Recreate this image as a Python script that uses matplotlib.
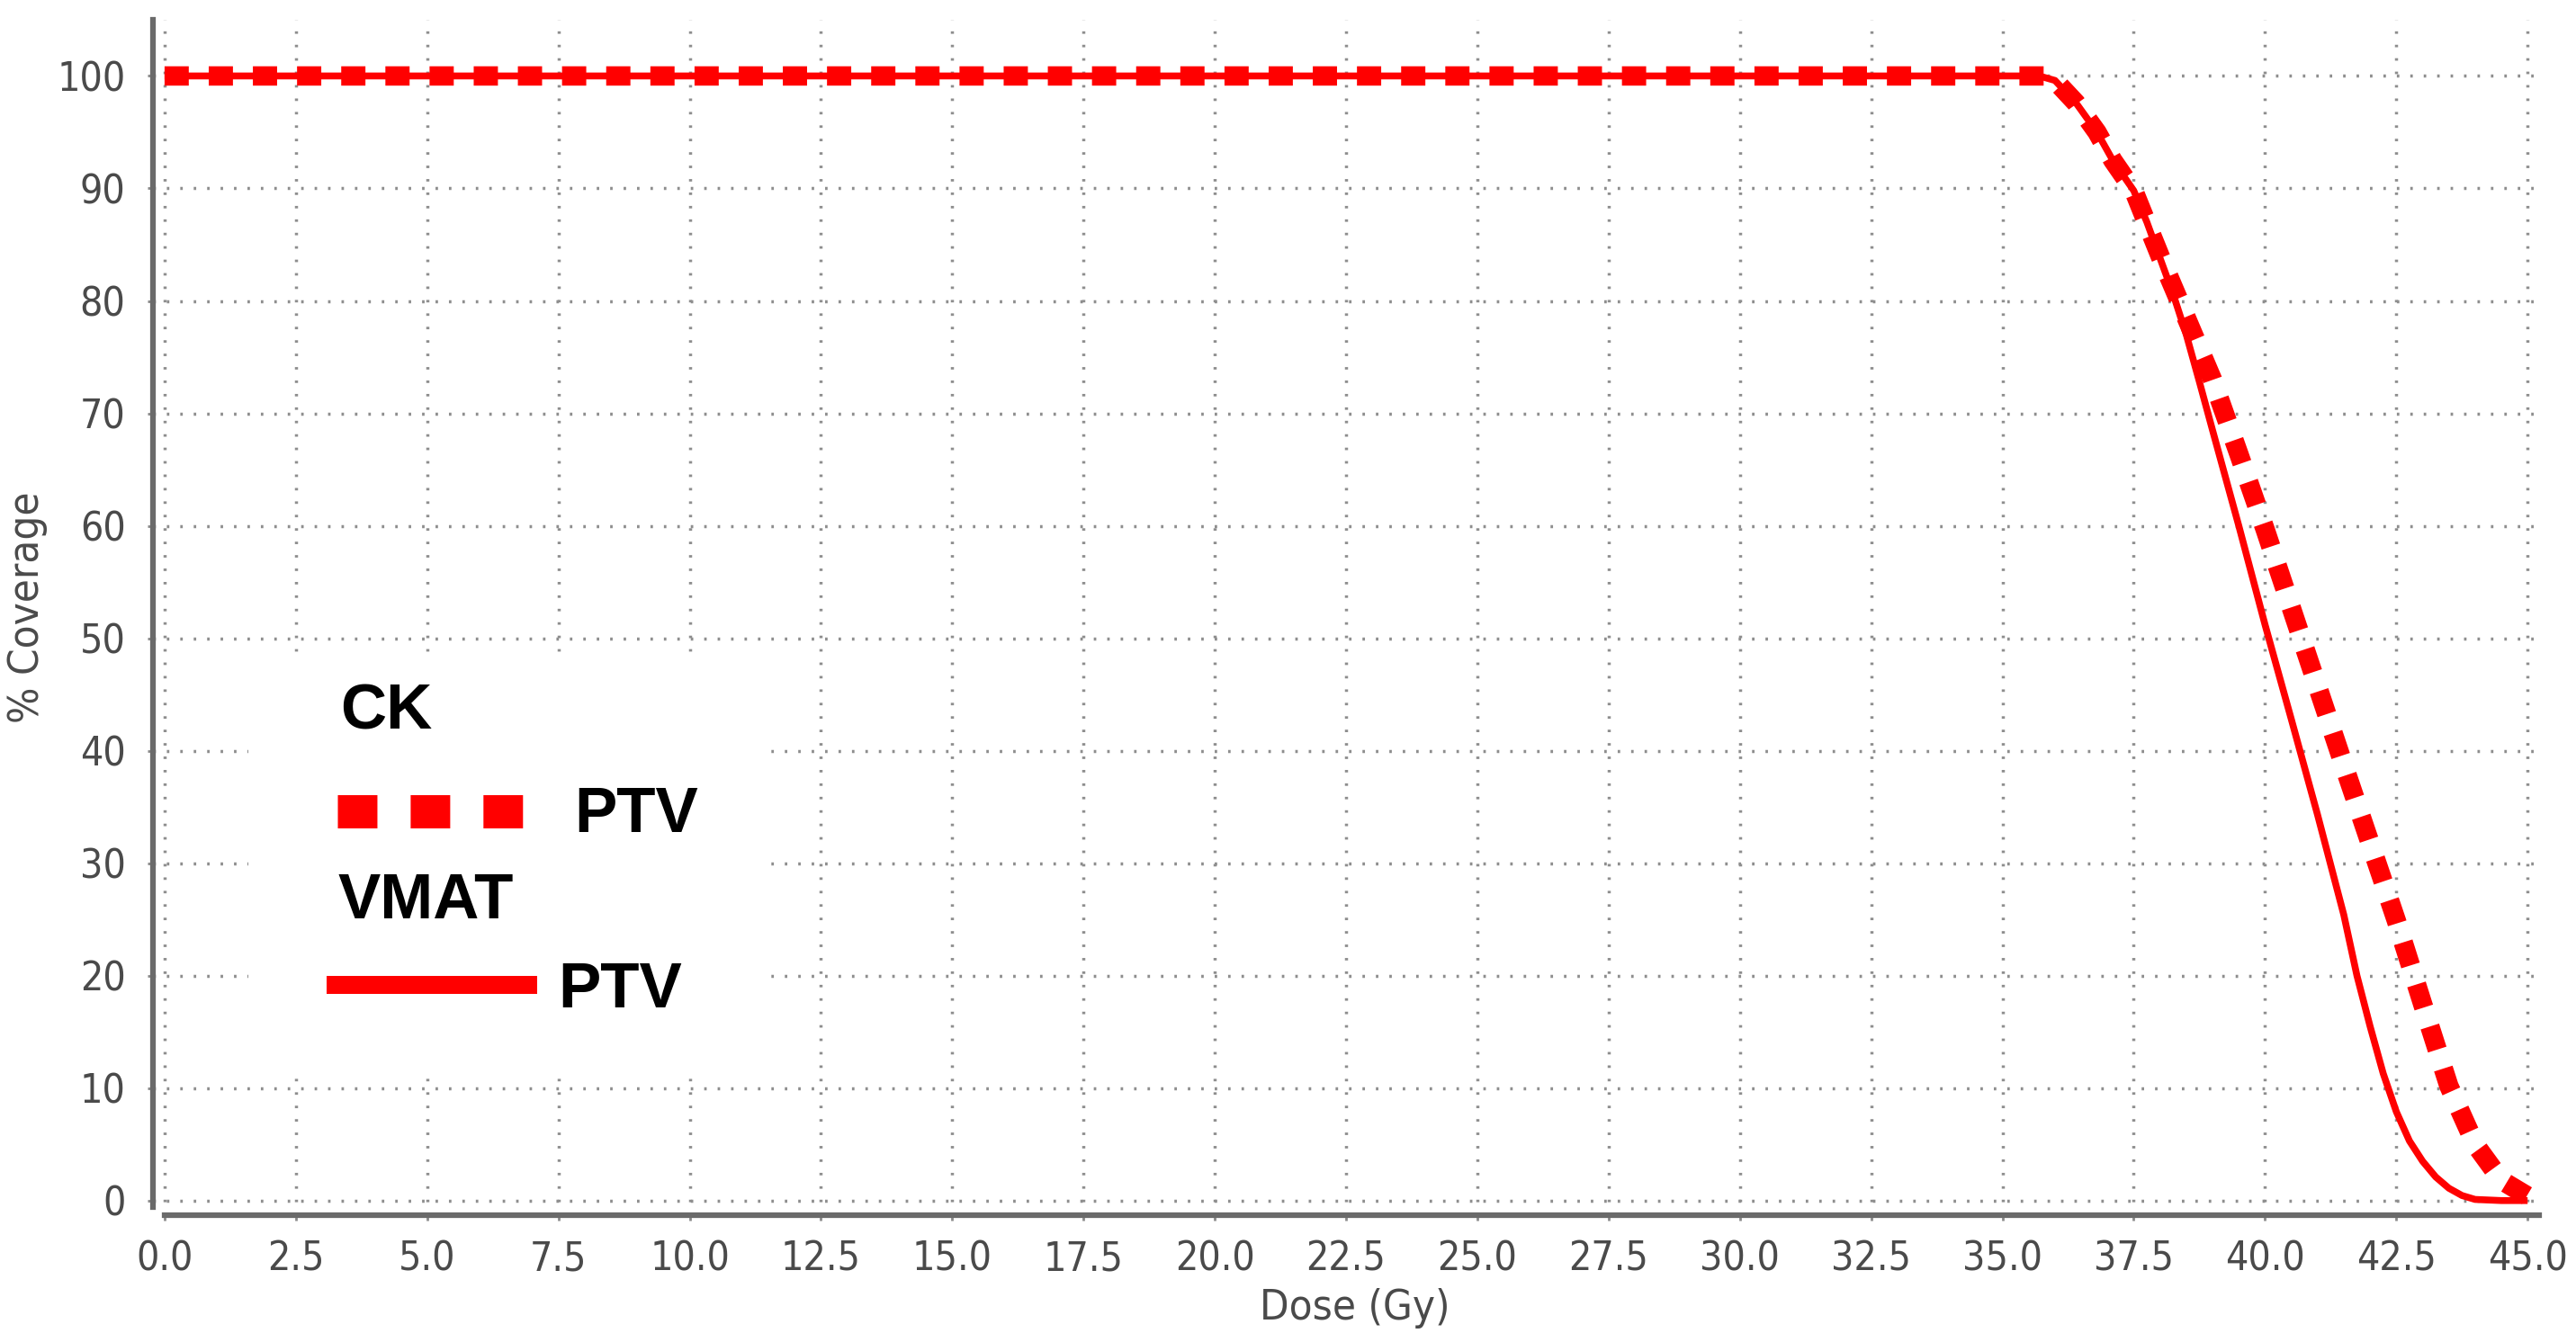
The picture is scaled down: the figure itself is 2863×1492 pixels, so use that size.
import matplotlib
matplotlib.use("Agg")
import matplotlib.pyplot as plt
from matplotlib.patches import Rectangle

# dose-volume data
dose_vmat = [0.0, 35.7, 36.0, 36.4, 36.8, 37.1, 37.5, 37.75, 38.0, 38.25, 38.5,
             38.75, 39.0, 39.5, 40.0, 40.5, 41.0, 41.5, 41.75, 42.0, 42.25,
             42.5, 42.75, 43.0, 43.25, 43.5, 43.75, 44.0, 44.5, 45.0]
cov_vmat = [100, 100, 99.6, 97.6, 95.0, 92.5, 89.8, 87.0, 83.8, 80.6, 77.0,
            72.8, 68.5, 60.0, 51.2, 42.8, 34.3, 25.4, 20.0, 15.5, 11.3,
            7.9, 5.3, 3.5, 2.1, 1.1, 0.45, 0.1, 0.0, 0.0]

dose_ck = [0.0, 35.8, 36.0, 36.4, 36.8, 37.1, 37.5, 38.0, 38.5, 39.0, 39.5,
           40.0, 40.5, 41.0, 41.5, 42.0, 42.5, 43.0, 43.5, 44.0, 44.5, 45.0]
cov_ck = [100, 100, 99.6, 97.6, 95.0, 92.5, 89.8, 84.0, 78.5, 73.0, 66.4,
          59.7, 52.7, 45.7, 38.7, 31.8, 24.9, 17.5, 10.2, 5.0, 1.8, 0.4]

x_ticks = [i * 2.5 for i in range(19)]
y_ticks = list(range(0, 101, 10))

red = '#ff0000'
grey_txt = '#4a4a4a'

fig = plt.figure(figsize=(28.63, 14.92), dpi=100)
ax = fig.add_axes([0.0594, 0.0945, 0.9263, 0.8908])

ax.set_xlim(-0.22, 45.22)
ax.set_ylim(-1.3, 105)

ax.set_axisbelow(True)
ax.grid(True, color='#8e8e8e', linestyle=(0, (0.8, 3.5)), linewidth=2.5)

# white block behind the hand-made legend
ax.add_patch(Rectangle((1.6, 11.6), 9.9, 36.8, facecolor='white',
                       edgecolor='none', zorder=1))

ax.plot(dose_vmat, cov_vmat, color=red, linewidth=5.5, zorder=3,
        solid_capstyle='butt', solid_joinstyle='round')
ax.plot(dose_ck, cov_ck, color=red, linewidth=15.5, zorder=4,
        linestyle=(0, (1.25, 1.03)), dash_capstyle='butt')

# legend drawn by hand, like the original
bold = dict(family='Liberation Sans', fontweight='bold', fontsize=51,
            color='black', va='center', ha='left', zorder=5)
ax.text(3.35, 43.4, 'CK', **bold)
ax.plot([3.29, 6.87], [34.6, 34.6], color=red, linewidth=26.6,
        linestyle=(0, (1.19, 1.0)), dash_capstyle='butt', zorder=5)
ax.text(7.8, 34.2, 'PTV', **bold)
ax.text(3.3, 26.5, 'VMAT', **bold)
ax.plot([3.08, 7.09], [19.2, 19.2], color=red, linewidth=14.4,
        solid_capstyle='butt', zorder=5)
ax.text(7.5, 18.6, 'PTV', **bold)

ax.set_xticks(x_ticks)
ax.set_xticklabels([f'{v:.1f}' for v in x_ticks])
ax.set_yticks(y_ticks)
ax.set_yticklabels([str(v) for v in y_ticks])
for lab in ax.get_xticklabels() + ax.get_yticklabels():
    lab.set_family('DejaVu Sans')
    lab.set_stretch('condensed')
    lab.set_fontsize(32)
    lab.set_color(grey_txt)
ax.tick_params(axis='both', length=4, width=2, color='#8a8a8a')
ax.tick_params(axis='y', pad=18)
ax.tick_params(axis='x', pad=16)

for side in ('top', 'right'):
    ax.spines[side].set_visible(False)
for side in ('left', 'bottom'):
    ax.spines[side].set_color('#6a6a6a')
    ax.spines[side].set_linewidth(4.5)
ax.spines['left'].set_bounds(-0.6, 105)
ax.spines['bottom'].set_bounds(0, 45.22)

fig.text(0.0108, 0.5476, '% Coverage', rotation=90, ha='center', va='center',
         family='DejaVu Sans', stretch='condensed', fontsize=34, color=grey_txt)
fig.text(0.526, 0.0248, 'Dose (Gy)', ha='center', va='center',
         family='DejaVu Sans', stretch='condensed', fontsize=34, color=grey_txt)

fig.savefig('out.png', dpi=100)
